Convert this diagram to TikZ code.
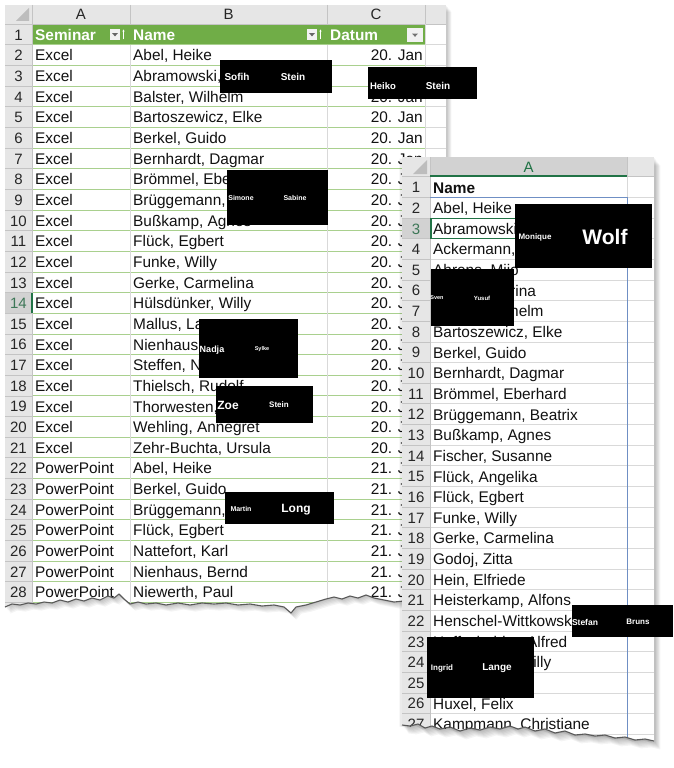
\documentclass[tikz,border=0pt]{standalone}
\usepackage{fontspec}
\setmainfont{Liberation Sans}
\usetikzlibrary{arrows.meta}
\definecolor{xlgreen}{HTML}{70AD47}
\definecolor{xlband}{HTML}{A9D08E}
\definecolor{hdrgray}{HTML}{E6E6E6}
\definecolor{hdrsel}{HTML}{D2D2D2}
\definecolor{hdrline}{HTML}{C4C4C4}
\definecolor{gridc}{HTML}{D9D9D9}
\definecolor{selgreen}{HTML}{217346}
\definecolor{bluel}{HTML}{6F8FC4}
\definecolor{txt}{HTML}{111111}
\definecolor{rowtxt}{HTML}{262626}
\definecolor{tri}{HTML}{BDBDBD}
\definecolor{btnfill}{HTML}{F2F2F2}
\def\tearone{(446,604) -- (404,601) -- (394,602) -- (384,600) -- (374,598) -- (366,595) -- (358,598) -- (350,596) -- (342,599) -- (334,597) -- (326,599) -- (316,602) -- (306,605) -- (296,607) -- (291,613) -- (284,607) -- (274,605) -- (262,606) -- (250,604) -- (238,605) -- (226,603) -- (214,604) -- (202,603) -- (190,605) -- (178,603) -- (166,605) -- (156,603) -- (146,604) -- (138,602) -- (130,604) -- (124,599) -- (119,594) -- (114,598) -- (108,596) -- (100,600) -- (92,598) -- (84,601) -- (76,599) -- (68,602) -- (60,600) -- (52,603) -- (44,602) -- (36,604) -- (28,603) -- (20,605) -- (12,604) -- (5,607)}
\def\sheetone{(5,5) -- (446,5) -- \tearone -- cycle}
\def\teartwo{(654,741) -- (645,739) -- (635,740) -- (625,737) -- (615,738) -- (605,735) -- (595,736) -- (585,734) -- (575,735) -- (565,731) -- (555,733) -- (545,729) -- (535,731) -- (525,727) -- (518,729) -- (510,726) -- (500,729) -- (490,727) -- (480,730) -- (470,728) -- (460,731) -- (450,727) -- (440,729) -- (432,726) -- (425,728) -- (418,724) -- (410,726) -- (402,725)}
\def\sheettwo{(402,157) -- (654,157) -- \teartwo -- cycle}
\begin{document}
\begin{tikzpicture}[x=1pt,y=-1pt,
  cell/.style={anchor=base west,inner sep=0pt,font=\fontsize{15.4}{15.4}\selectfont,text=txt},
  datec/.style={anchor=base east,inner sep=0pt,font=\fontsize{15.4}{15.4}\selectfont,text=txt},
  rnum/.style={anchor=base,inner sep=0pt,font=\fontsize{15}{15}\selectfont,text=rowtxt},
  colhdr/.style={anchor=base,inner sep=0pt,font=\fontsize{15}{15}\selectfont,text=rowtxt},
  tblhdr/.style={anchor=base west,inner sep=0pt,font=\bfseries\fontsize{15.4}{15.4}\selectfont,text=white},
  boldhdr/.style={anchor=base west,inner sep=0pt,font=\bfseries\fontsize{15.4}{15.4}\selectfont,text=txt},
  band/.style={draw=xlband,line width=0.9pt},
  gridl/.style={draw=gridc,line width=0.8pt},
  hline/.style={draw=hdrline,line width=0.8pt},
  redact/.style={fill=black},
  rtxt/.style={anchor=center,inner sep=0pt,text=white,font=\bfseries\fontsize{#1}{#1}\selectfont},
  tear/.style={draw=black!65,line width=1.1pt,line join=round},
  shadowl/.style={fill=black,opacity=0.045}]
\useasboundingbox (0,0) rectangle (673,768);
\fill[white] (0,0) rectangle (673,768);

% ================= SHEET 1 =================
\foreach \k in {1,...,6}{\fill[shadowl,shift={(\k*0.9,\k*1.1)}] \sheetone;}
\fill[white] \sheetone;
\begin{scope}
\clip \sheetone;
\fill[hdrgray] (5,5) rectangle (446,24.2);
\fill[hdrgray] (5,24.2) rectangle (32,620);
\fill[hdrsel] (5,292.65) rectangle (32,313.3);
\fill[tri] (29,8) -- (29,21) -- (16,21) -- cycle;
\fill[xlgreen] (32,24.2) rectangle (425,44.85);
\foreach \k in {2,...,29}{
  \pgfmathsetmacro\yy{24.2+(\k-1)*20.65}
  \draw[band] (32,\yy) -- (425,\yy);
  \draw[gridl] (425,\yy) -- (446,\yy);
  \draw[hline] (5,\yy) -- (32,\yy);
}
\draw[hline] (5,24.2) -- (446,24.2);
\draw[hline] (32,5) -- (32,620);
\foreach \xx in {130,327,425}{\draw[hline] (\xx,5) -- (\xx,24.2);}
\draw[hline] (446,5) -- (446,24.2);
\draw[gridl] (130,44.85) -- (130,620);
\draw[gridl] (327,44.85) -- (327,620);
\draw[gridl] (425,24.2) -- (425,620);
\draw[selgreen,line width=1.6pt] (32,292.65) -- (32,313.3);
% column letters
\node[colhdr] (s1ca) at (81,20) {A};
\node[colhdr] (s1cb) at (228.5,20) {B};
\node[colhdr] (s1cc) at (376,20) {C};
% row numbers
\foreach \i in {1,...,28}{
  \pgfmathsetmacro\yb{34.5+(\i-1)*20.65+5.7}
  \ifnum\i=14
    \node[rnum,text=selgreen!70!gray] (s1r\i) at (18.5,\yb) {\i};
  \else
    \node[rnum] (s1r\i) at (18.5,\yb) {\i};
  \fi
}
% table header
\node[tblhdr] (s1h1) at (35,40.3) {Seminar};
\node[tblhdr] (s1h2) at (133,40.3) {Name};
\node[tblhdr] (s1h3) at (330,40.3) {Datum};
\foreach \bx in {110,307}{
  \fill[btnfill] (\bx,29) rectangle (\bx+10,40);
  \fill[black!60] (\bx+2.2,33.2) -- (\bx+7.8,33.2) -- (\bx+5,36.4) -- cycle;
  \draw[white,line width=0.7pt,-{Stealth[length=2.2pt,width=2.4pt]}] (\bx+13.5,39.5) -- (\bx+13.5,29.5);
}
\fill[btnfill] (407,28) rectangle (423,42);
\fill[black!55] (412,33.6) -- (418,33.6) -- (415,36.8) -- cycle;
% column A
\foreach \i in {2,...,21}{
  \pgfmathsetmacro\yb{34.5+(\i-1)*20.65+5.8}
  \node[cell] (s1a\i) at (35,\yb) {Excel};
  \node[datec] (s1c\i) at (423,\yb) {20. Jan};
}
\foreach \i in {22,...,28}{
  \pgfmathsetmacro\yb{34.5+(\i-1)*20.65+5.8}
  \node[cell] (s1a\i) at (35,\yb) {PowerPoint};
  \node[datec] (s1c\i) at (423,\yb) {21. Jan};
}
% column B
\foreach \i/\n in {2/{Abel, Heike},3/{Abramowski,},4/{Balster, Wilhelm},5/{Bartoszewicz, Elke},6/{Berkel, Guido},7/{Bernhardt, Dagmar},8/{Brömmel, Eberhard},9/{Brüggemann, Beatrix},10/{Bußkamp, Agnes},11/{Flück, Egbert},12/{Funke, Willy},13/{Gerke, Carmelina},14/{Hülsdünker, Willy},15/{Mallus, La},16/{Nienhaus,},17/{Steffen, N},18/{Thielsch, Rudolf},19/{Thorwesten,},20/{Wehling, Annegret},21/{Zehr-Buchta, Ursula},22/{Abel, Heike},23/{Berkel, Guido},24/{Brüggemann,},25/{Flück, Egbert},26/{Nattefort, Karl},27/{Nienhaus, Bernd},28/{Niewerth, Paul}}{
  \pgfmathsetmacro\yb{34.5+(\i-1)*20.65+5.8}
  \node[cell] (s1b\i) at (133,\yb) {\n};
}
\end{scope}
\draw[tear] \tearone;

% ================= SHEET 2 =================
\fill[black,opacity=0.08,shift={(-2.5,1.5)}] \sheettwo;
\foreach \k in {1,...,7}{\fill[shadowl,shift={(\k*0.9,\k*1.2)}] \sheettwo;}
\fill[white] \sheettwo;
\begin{scope}
\clip \sheettwo;
\fill[hdrgray] (402,157) rectangle (654,176.7);
\fill[hdrsel] (430,157) rectangle (627,176.7);
\fill[hdrgray] (402,176.7) rectangle (430,750);
\fill[hdrsel] (402,218) rectangle (430,238.65);
\fill[tri] (427,160) -- (427,174) -- (413,174) -- cycle;
\foreach \k in {2,...,29}{
  \pgfmathsetmacro\yy{176.7+(\k-1)*20.65}
  \draw[gridl] (430,\yy) -- (654,\yy);
  \draw[hline] (402,\yy) -- (430,\yy);
}
\draw[hline] (402,176.7) -- (654,176.7);
\draw[hline] (430,157) -- (430,750);
\draw[hline] (627,157) -- (627,176.7);
\draw[gridl] (627,176.7) -- (627,197.35);
\draw[selgreen,line width=1.6pt] (430,176) -- (627,176);
\node[colhdr,text=selgreen] (s2ca) at (528.5,172.5) {A};
\foreach \i in {1,...,27}{
  \pgfmathsetmacro\yb{187+(\i-1)*20.65+5.7}
  \ifnum\i=3
    \node[rnum,text=selgreen!70!gray] (s2r\i) at (416,\yb) {\i};
  \else
    \node[rnum] (s2r\i) at (416,\yb) {\i};
  \fi
}
\draw[bluel,line width=0.9pt] (430,197.35) -- (627,197.35) -- (627,750);
\draw[selgreen,line width=1.6pt] (431,218.4) rectangle (627,238.4);
\node[boldhdr] (s2h1) at (433,193) {Name};
\foreach \i/\n in {2/{Abel, Heike},3/{Abramowski,},4/{Ackermann,},5/{Ahrens, Mijo},6/{Arndt, Katarina},7/{Balster, Wilhelm},8/{Bartoszewicz, Elke},9/{Berkel, Guido},10/{Bernhardt, Dagmar},11/{Brömmel, Eberhard},12/{Brüggemann, Beatrix},13/{Bußkamp, Agnes},14/{Fischer, Susanne},15/{Flück, Angelika},16/{Flück, Egbert},17/{Funke, Willy},18/{Gerke, Carmelina},19/{Godoj, Zitta},20/{Hein, Elfriede},21/{Heisterkamp, Alfons},22/{Henschel-Wittkowski,},23/{Hoffscheider, Alfred},24/{Hülsdünker, Willy},25/{Hübner, Peter},26/{Huxel, Felix},27/{Kampmann, Christiane}}{
  \pgfmathsetmacro\yb{187+(\i-1)*20.65+5.9}
  \node[cell] (s2a\i) at (433,\yb) {\n};
}
\end{scope}
\draw[tear] \teartwo;

% ================= REDACTION BOXES =================
\fill[redact] (220,60) rectangle (332,93);
\node[rtxt=10] (k1a) at (237,77) {Sofih};
\node[rtxt=10] (k1b) at (293,77) {Stein};
\fill[redact] (368,67) rectangle (477,99);
\node[rtxt=9.5] (k2a) at (383,86) {Heiko};
\node[rtxt=10] (k2b) at (438,86) {Stein};
\fill[redact] (227,170) rectangle (328,225);
\node[rtxt=7] (k3a) at (241,198) {Simone};
\node[rtxt=7] (k3b) at (295,198) {Sabine};
\fill[redact] (199,319) rectangle (298,378);
\node[rtxt=9] (k4a) at (212,350) {Nadja};
\node[rtxt=5.5] (k4b) at (262,349) {Sylke};
\fill[redact] (216,386) rectangle (313,423);
\node[rtxt=12] (k5a) at (228,405) {Zoe};
\node[rtxt=8] (k5b) at (279,405) {Stein};
\fill[redact] (225,492) rectangle (334,524);
\node[rtxt=7] (k6a) at (241,509) {Martin};
\node[rtxt=12] (k6b) at (296,510) {Long};
\fill[redact] (515,204) rectangle (652,268);
\node[rtxt=8] (k7a) at (535,237) {Monique};
\node[rtxt=21] (k7b) at (605,237) {Wolf};
\fill[redact] (431,269) rectangle (514,326);
\node[rtxt=5.5] (k8a) at (437,298) {Sven};
\node[rtxt=6] (k8b) at (482,298) {Yusuf};
\fill[redact] (572,605) rectangle (673,637);
\node[rtxt=8.5] (k9a) at (585,622) {Stefan};
\node[rtxt=8] (k9b) at (638,622) {Bruns};
\fill[redact] (427,637) rectangle (534,698);
\node[rtxt=8] (k10a) at (442,668) {Ingrid};
\node[rtxt=10] (k10b) at (497,668) {Lange};
\end{tikzpicture}
\end{document}
